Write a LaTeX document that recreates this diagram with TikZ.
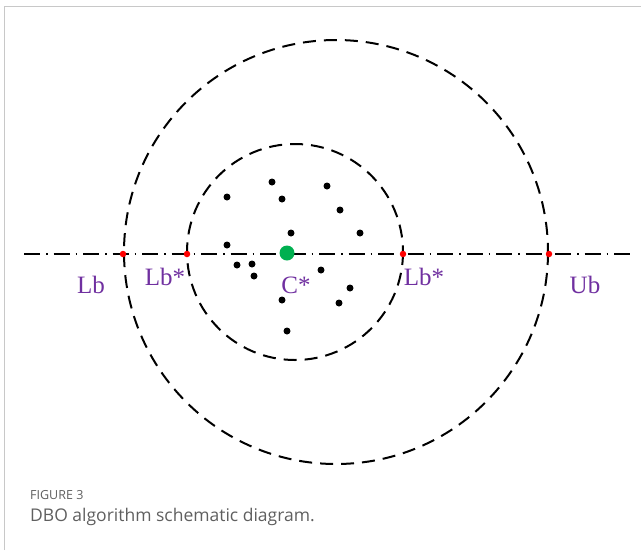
\documentclass[tikz,border=0pt]{standalone}
\usepackage{fontspec}
\setmainfont{Liberation Serif}
\newfontfamily\capfont{Open Sans}
\usepackage{xcolor}
\definecolor{dbopurple}{RGB}{112,48,160}
\definecolor{dbogreen}{RGB}{0,176,80}
\definecolor{dbored}{RGB}{255,0,0}
\definecolor{dbogray}{RGB}{95,95,95}
\definecolor{dboframe}{RGB}{200,200,200}
\usetikzlibrary{positioning}
\tikzset{
  bound/.style={dash pattern=on 13pt off 8pt, line width=2pt},
  axisline/.style={dash pattern=on 16pt off 6pt on 1.5pt off 6pt, line width=1.5pt},
  beetle/.style={circle, fill=black, inner sep=0pt, minimum size=7pt},
  limitpt/.style={circle, fill=dbored, inner sep=0pt, minimum size=6.5pt},
  lbl/.style={font=\fontsize{25}{28}\selectfont, text=dbopurple, inner sep=0pt}
}
\begin{document}
\begin{tikzpicture}[x=1pt, y=-1pt]
    \useasboundingbox (0,0) rectangle (641,550);
    % page frame (top and left edges)
    \draw[dboframe, line width=1pt] (4,550) -- (4,6) -- (641,6);

    % search bounds: outer and inner circles
    \draw[bound] (336,252) circle (212);
    \draw[bound] (295,252) circle (108);

    % horizontal axis
    \coordinate (axL) at (24,254);
    \coordinate (axR) at (630,254);
    \draw[axisline] (axL) -- (axR);

    % population
    \foreach \px/\py [count=\i] in {272/182, 327/186, 227/197, 282/199, 340/210,
        291/233, 360/233, 227/245, 237/265, 252/264, 254/276, 321/270,
        350/288, 282/300, 339/303, 287/331}
      \node[beetle] (b\i) at (\px,\py) {};

    % best position
    \node[circle, fill=dbogreen, inner sep=0pt, minimum size=15pt] (cbest) at (287,253) {};

    % bound points on the axis
    \node[limitpt] (lb) at (123,254) {};
    \node[limitpt] (lbs1) at (187,254) {};
    \node[limitpt] (lbs2) at (403,254) {};
    \node[limitpt] (ub) at (549,254) {};

    % labels
    \node[lbl] (tlb) at (91,285) {Lb};
    \node[lbl] (tlbs1) at (165,277) {Lb*};
    \node[lbl] (tcbest) at (296,285) {C*};
    \node[lbl] (tlbs2) at (424,277) {Lb*};
    \node[lbl] (tub) at (585,285) {Ub};

    % caption
    \node[anchor=west, inner sep=0pt, text=dbogray, font=\capfont\fontsize{12.5}{14}\selectfont]
      (figno) at (30,495) {FIGURE 3};
    \node[anchor=west, inner sep=0pt, text=dbogray, font=\capfont\fontsize{17.5}{20}\selectfont]
      (figcap) at (30,517) {DBO algorithm schematic diagram.};
\end{tikzpicture}
\end{document}
